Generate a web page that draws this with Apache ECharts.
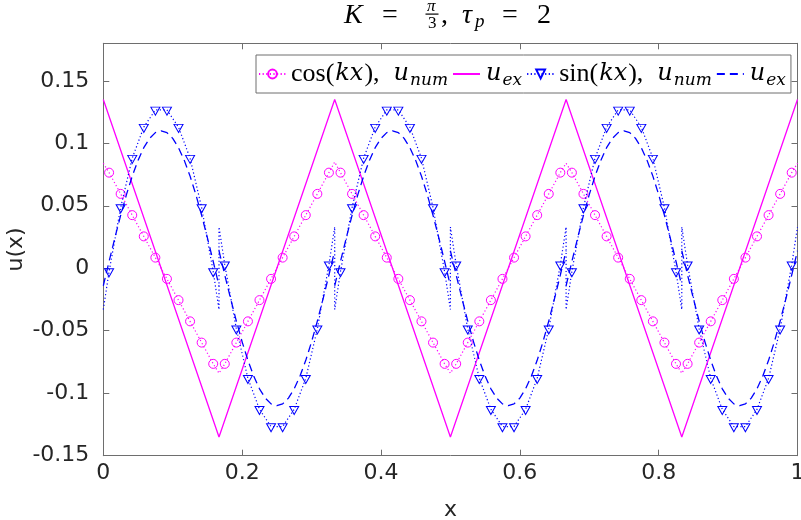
<!DOCTYPE html>
<html>
<head>
<meta charset="utf-8">
<script src="https://cdn.jsdelivr.net/npm/echarts/dist/echarts.min.js"></script>
<style>html,body{margin:0;padding:0;background:#fff;}#c{width:801px;height:520px;}</style>
</head>
<body>
<div id="c"></div>
<script>
// ---- data ----
const nCells = 60;            // cell centres at (i+0.5)/60
const nSeg = 6;               // interfaces at k/6
const xTicks = [0, 0.2, 0.4, 0.6, 0.8, 1];
const yTicks = [-0.15, -0.1, -0.05, 0, 0.05, 0.1, 0.15];

// cos(kx), u_num : value at each cell centre (circles)
const cosNum = [
  0.0765, 0.0595, 0.0425, 0.0255, 0.0085, -0.0085, -0.0255, -0.0425, -0.0595, -0.0765,
  -0.0765, -0.0595, -0.0425, -0.0255, -0.0085, 0.0085, 0.0255, 0.0425, 0.0595, 0.0765,
  0.0765, 0.0595, 0.0425, 0.0255, 0.0085, -0.0085, -0.0255, -0.0425, -0.0595, -0.0765,
  -0.0765, -0.0595, -0.0425, -0.0255, -0.0085, 0.0085, 0.0255, 0.0425, 0.0595, 0.0765,
  0.0765, 0.0595, 0.0425, 0.0255, 0.0085, -0.0085, -0.0255, -0.0425, -0.0595, -0.0765,
  -0.0765, -0.0595, -0.0425, -0.0255, -0.0085, 0.0085, 0.0255, 0.0425, 0.0595, 0.0765
];
// cos numerical line at the interfaces x = k/6
const cosEdge = [0.084, -0.084, 0.085, -0.084, 0.084, -0.084, 0.084];

// sin(kx), u_num : value at each cell centre (triangles)
const sinNum = [
  -0.0027, 0.0485, 0.0881, 0.1129, 0.1267, 0.1267, 0.1129, 0.0881, 0.0485, -0.0027,
  0.0027, -0.0485, -0.0881, -0.1129, -0.1267, -0.1267, -0.1129, -0.0881, -0.0485, 0.0027,
  -0.0027, 0.0485, 0.0881, 0.1129, 0.1267, 0.1267, 0.1129, 0.0881, 0.0485, -0.0027,
  0.0027, -0.0485, -0.0881, -0.1129, -0.1267, -0.1267, -0.1129, -0.0881, -0.0485, 0.0027,
  -0.0027, 0.0485, 0.0881, 0.1129, 0.1267, 0.1267, 0.1129, 0.0881, 0.0485, -0.0027,
  0.0027, -0.0485, -0.0881, -0.1129, -0.1267, -0.1267, -0.1129, -0.0881, -0.0485, 0.0027
];
// sin numerical line: value left / right of each interface x = k/6 (jumps)
const sinEdgeL = [null, -0.033, 0.033, -0.033, 0.033, -0.033, 0.033];
const sinEdgeR = [-0.033, 0.033, -0.033, 0.033, -0.033, 0.033, null];

// cos exact (triangle wave) vertices
const cosExX = [0, 1/6, 2/6, 3/6, 4/6, 5/6, 1];
const cosExY = [0.135, -0.135, 0.135, -0.135, 0.135, -0.135, 0.135];

// sin exact: six pieces between the interfaces, 21 samples each (step 1/120)
const sinExSeg = [
  [-0.0140, 0.0054, 0.0243, 0.0423, 0.0589, 0.0737, 0.0863, 0.0965, 0.1039, 0.1085, 0.1100,
   0.1085, 0.1039, 0.0965, 0.0863, 0.0737, 0.0589, 0.0423, 0.0243, 0.0054, -0.0140],
  [0.0140, -0.0054, -0.0243, -0.0423, -0.0589, -0.0737, -0.0863, -0.0965, -0.1039, -0.1085, -0.1100,
   -0.1085, -0.1039, -0.0965, -0.0863, -0.0737, -0.0589, -0.0423, -0.0243, -0.0054, 0.0140],
  [-0.0140, 0.0054, 0.0243, 0.0423, 0.0589, 0.0737, 0.0863, 0.0965, 0.1039, 0.1085, 0.1100,
   0.1085, 0.1039, 0.0965, 0.0863, 0.0737, 0.0589, 0.0423, 0.0243, 0.0054, -0.0140],
  [0.0140, -0.0054, -0.0243, -0.0423, -0.0589, -0.0737, -0.0863, -0.0965, -0.1039, -0.1085, -0.1100,
   -0.1085, -0.1039, -0.0965, -0.0863, -0.0737, -0.0589, -0.0423, -0.0243, -0.0054, 0.0140],
  [-0.0140, 0.0054, 0.0243, 0.0423, 0.0589, 0.0737, 0.0863, 0.0965, 0.1039, 0.1085, 0.1100,
   0.1085, 0.1039, 0.0965, 0.0863, 0.0737, 0.0589, 0.0423, 0.0243, 0.0054, -0.0140],
  [0.0140, -0.0054, -0.0243, -0.0423, -0.0589, -0.0737, -0.0863, -0.0965, -0.1039, -0.1085, -0.1100,
   -0.1085, -0.1039, -0.0965, -0.0863, -0.0737, -0.0589, -0.0423, -0.0243, -0.0054, 0.0140]
];

// ---- build series data ----
const cellsPerSeg = nCells / nSeg;
function numData(centres, edgeL, edgeR) {
  const out = [];
  for (let s = 0; s < nSeg; s++) {
    const r = edgeR[s];
    if (r !== null) out.push({value: [s / nSeg, r], symbol: 'none'});
    for (let i = s * cellsPerSeg; i < (s + 1) * cellsPerSeg; i++) {
      out.push({value: [(i + 0.5) / nCells, centres[i]]});
    }
    const l = edgeL[s + 1];
    if (l !== null) out.push({value: [(s + 1) / nSeg, l], symbol: 'none'});
  }
  return out;
}
const cosNumData = numData(cosNum, cosEdge, cosEdge);
const sinNumData = numData(sinNum, sinEdgeL, sinEdgeR);
const cosExData = cosExX.map((x, i) => [x, cosExY[i]]);
const sinExData = [];
sinExSeg.forEach((seg, s) => {
  seg.forEach((v, j) => sinExData.push([s / nSeg + j / 120, v]));
  if (s < nSeg - 1) sinExData.push([(s + 1) / nSeg, '-']);
});

const MAG = '#ff00ff', BLU = '#0000ff', AX = '#6e6e6e', TXT = '#262626';
const tickFont = {fontFamily: 'DejaVu Sans', fontSize: 22, color: TXT};

const legendText = {
  cosNum: '{t|cos(}{m|kx}{t|),}  {m|u}{s|num}',
  cosEx: '{m|u}{s|ex}',
  sinNum: '{t|sin(}{m|kx}{t|),}  {m|u}{s|num}',
  sinEx: '{m|u}{s|ex}'
};

const chart = echarts.init(document.getElementById('c'), null, {renderer: 'canvas'});
const option = {
  animation: false,
  backgroundColor: '#fff',
  grid: {left: 103.3, right: 3.5, top: 43.3, bottom: 64.3, containLabel: false, outerBoundsMode: 'none'},
  xAxis: [
    {type: 'value', position: 'bottom', min: xTicks[0], max: xTicks[xTicks.length - 1], interval: 0.2,
     name: 'x', nameLocation: 'middle', nameGap: 44, nameTextStyle: tickFont,
     axisLine: {show: true, onZero: false, lineStyle: {color: AX, width: 1}},
     axisTick: {show: true, inside: true, length: 6, lineStyle: {color: AX}},
     axisLabel: Object.assign({margin: 7, formatter: v => String(+v.toFixed(2))}, tickFont),
     splitLine: {show: false}},
    {type: 'value', position: 'top', min: 0, max: 1, interval: 0.2,
     axisLine: {show: true, onZero: false, lineStyle: {color: AX, width: 1}},
     axisTick: {show: true, inside: true, length: 6, lineStyle: {color: AX}},
     axisLabel: {show: false}, splitLine: {show: false}}
  ],
  yAxis: [
    {type: 'value', position: 'left', min: yTicks[0], max: 0.18, interval: 0.05,
     name: 'u(x)', nameLocation: 'middle', nameGap: 76, nameTextStyle: tickFont, nameMoveOverlap: false,
     axisLine: {show: true, onZero: false, lineStyle: {color: AX, width: 1}},
     axisTick: {show: true, inside: true, length: 6, lineStyle: {color: AX}},
     axisLabel: Object.assign({margin: 14, showMaxLabel: false,
       formatter: v => (yTicks.some(t => Math.abs(t - v) < 1e-9) ? String(+v.toFixed(2)) : '')}, tickFont),
     splitLine: {show: false}},
    {type: 'value', position: 'right', min: -0.15, max: 0.18, interval: 0.05,
     axisLine: {show: true, onZero: false, lineStyle: {color: AX, width: 1}},
     axisTick: {show: true, inside: true, length: 6, lineStyle: {color: AX}},
     axisLabel: {show: false}, splitLine: {show: false}}
  ],
  legend: {
    left: 256, top: 55, orient: 'horizontal',
    padding: [4, 5, 4, 2], itemGap: 4, itemWidth: 27, itemHeight: 11,
    borderColor: AX, borderWidth: 1, backgroundColor: '#fff', selectedMode: false,
    data: [{name: 'cosNum'}, {name: 'cosEx', itemStyle: {opacity: 0}},
           {name: 'sinNum'}, {name: 'sinEx', itemStyle: {opacity: 0}}],
    formatter: n => legendText[n],
    textStyle: {
      fontFamily: 'Liberation Serif', fontSize: 26, lineHeight: 30, color: '#000',
      rich: {
        t: {fontFamily: 'Liberation Serif', fontSize: 26, lineHeight: 30, color: '#000'},
        m: {fontFamily: 'DejaVu Serif', fontStyle: 'italic', fontSize: 24, lineHeight: 30, color: '#000', padding: [0, 1, 0, 1]},
        s: {fontFamily: 'DejaVu Serif', fontStyle: 'italic', fontSize: 17, lineHeight: 16, color: '#000', verticalAlign: 'bottom'}
      }
    }
  },
  series: [
    {name: 'cosNum', type: 'line', xAxisIndex: 0, yAxisIndex: 0, data: cosNumData,
     symbol: 'circle', symbolSize: 9, showSymbol: true,
     itemStyle: {color: 'rgba(255,255,255,0)', borderColor: MAG, borderWidth: 1},
     lineStyle: {color: MAG, width: 1.2, type: [1.2, 2.4]}, z: 3},
    {name: 'cosEx', type: 'line', data: cosExData, symbol: 'none', showSymbol: false,
     itemStyle: {color: MAG}, lineStyle: {color: MAG, width: 1.3, type: 'solid'}, z: 2},
    {name: 'sinNum', type: 'line', data: sinNumData,
     symbol: 'triangle', symbolRotate: 180, symbolSize: [9, 8], symbolOffset: [0, 1.2], showSymbol: true,
     itemStyle: {color: 'rgba(255,255,255,0)', borderColor: BLU, borderWidth: 1},
     lineStyle: {color: BLU, width: 1.2, type: [1.2, 2.4]}, z: 4},
    {name: 'sinEx', type: 'line', data: sinExData, symbol: 'none', showSymbol: false, connectNulls: false,
     itemStyle: {color: BLU}, lineStyle: {color: BLU, width: 1.3, type: [8, 5]}, z: 2}
  ],
  graphic: [
    {type: 'text', left: 344, top: 2, style: {text: 'K', font: 'italic 28px "Liberation Serif"', fill: '#000'}},
    {type: 'text', left: 382, top: 2, style: {text: '=', font: '28px "Liberation Serif"', fill: '#000'}},
    {type: 'text', left: 427, top: -2, style: {text: 'π', font: 'italic 17px "Liberation Serif"', fill: '#000'}},
    {type: 'rect', shape: {x: 425.5, y: 13.5, width: 13, height: 1.2}, style: {fill: '#000'}},
    {type: 'text', left: 428, top: 15, style: {text: '3', font: '17px "Liberation Serif"', fill: '#000'}},
    {type: 'text', left: 441, top: 2, style: {text: ',', font: '28px "Liberation Serif"', fill: '#000'}},
    {type: 'text', left: 462, top: 2, style: {text: 'τ', font: 'italic 28px "Liberation Serif"', fill: '#000'}},
    {type: 'text', left: 475, top: 12, style: {text: 'p', font: 'italic 19px "Liberation Serif"', fill: '#000'}},
    {type: 'text', left: 502, top: 2, style: {text: '=', font: '28px "Liberation Serif"', fill: '#000'}},
    {type: 'text', left: 537, top: 2, style: {text: '2', font: '28px "Liberation Serif"', fill: '#000'}}
  ]
};
chart.setOption(option);
</script>
</body>
</html>
